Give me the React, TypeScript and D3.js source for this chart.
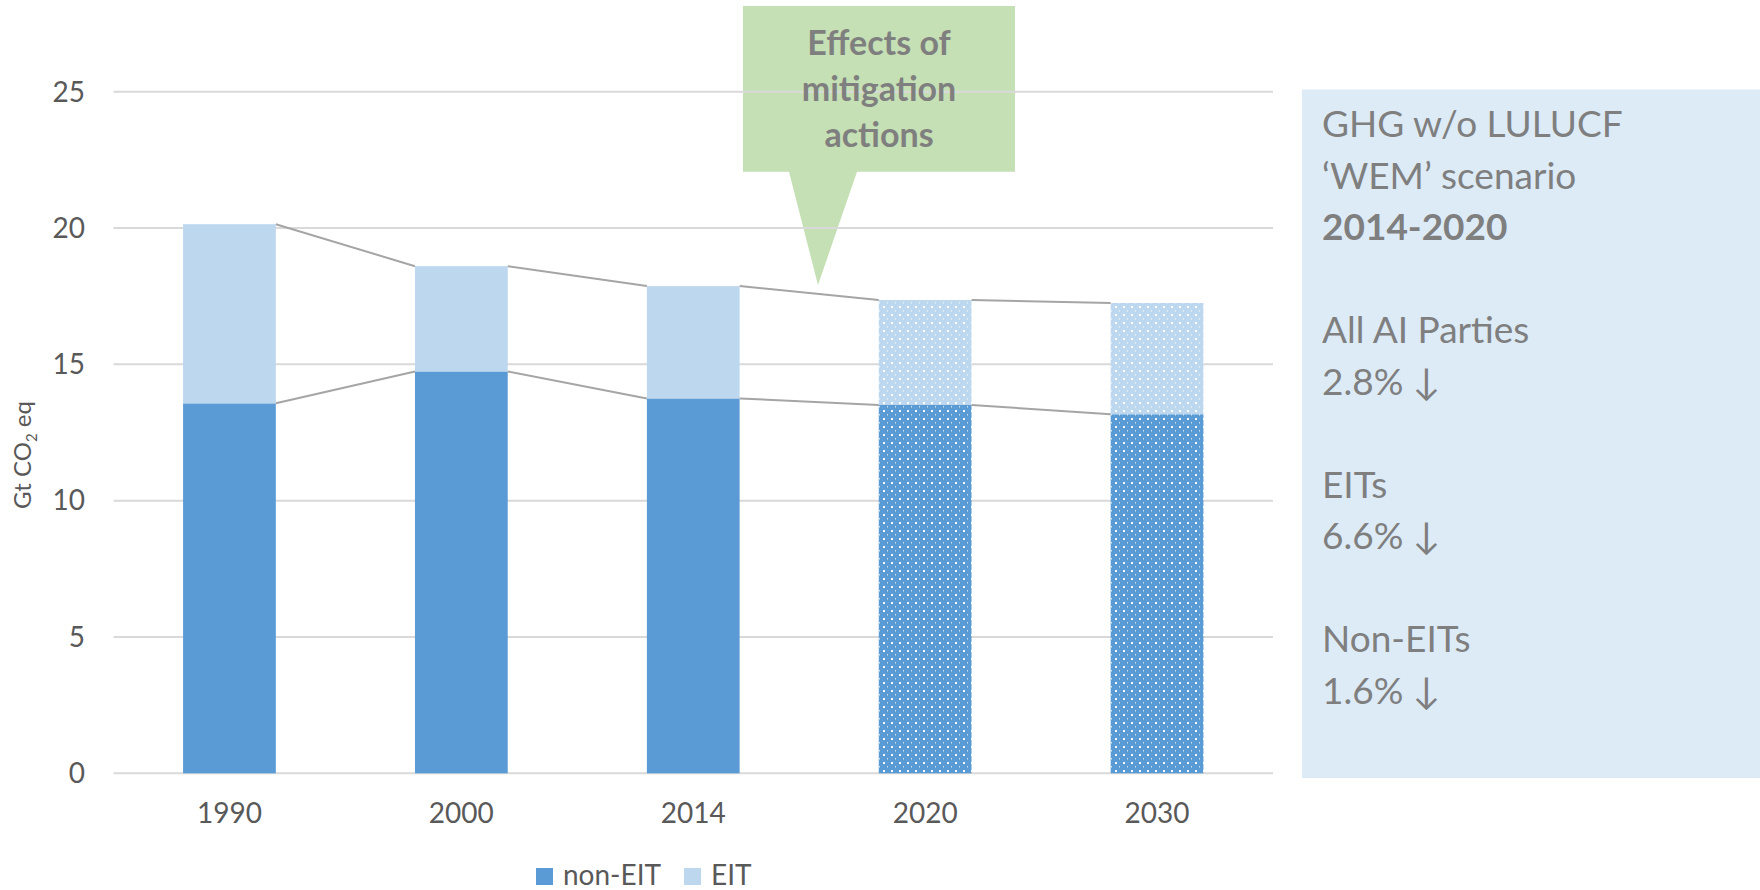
import React from "react";
import * as d3 from "d3";

const categories = ["1990", "2000", "2014", "2020", "2030"];
const nonEIT = [13.57, 14.74, 13.75, 13.51, 13.17];
const eit = [6.57, 3.86, 4.12, 3.85, 4.08];
const projected = [false, false, false, true, true];
const yTicks = [0, 5, 10, 15, 20, 25];
const seriesNames = ["non-EIT", "EIT"];
const calloutLines = ["Effects of", "mitigation", "actions"];
const panelLines: { text: string; bold?: boolean }[] = [
  { text: "GHG w/o LULUCF" },
  { text: "\u2018WEM\u2019 scenario" },
  { text: "2014-2020", bold: true },
  { text: "" },
  { text: "All AI Parties" },
  { text: "2.8% \u2193" },
  { text: "" },
  { text: "EITs" },
  { text: "6.6% \u2193" },
  { text: "" },
  { text: "Non-EITs" },
  { text: "1.6% \u2193" },
];

const W = 1760;
const H = 890;
const FONT = "Lato, 'Open Sans', sans-serif";
const C_NON = "#5B9BD5";
const C_EIT = "#BDD7EE";

export default function App() {
  const x = d3
    .scaleBand<string>()
    .domain(categories)
    .range([113.5, 1273])
    .paddingInner(0.6)
    .paddingOuter(0.3);
  const y = d3.scaleLinear().domain([0, 25]).range([773.3, 91.7]);
  const bw = x.bandwidth();

  const totals = categories.map((_, i) => nonEIT[i] + eit[i]);

  const connectors: { x1: number; y1: number; x2: number; y2: number }[] = [];
  for (let i = 0; i < categories.length - 1; i++) {
    const xa = (x(categories[i]) as number) + bw;
    const xb = x(categories[i + 1]) as number;
    connectors.push({ x1: xa, y1: y(totals[i]), x2: xb, y2: y(totals[i + 1]) });
    connectors.push({ x1: xa, y1: y(nonEIT[i]), x2: xb, y2: y(nonEIT[i + 1]) });
  }

  // callout shape
  const bx0 = 743, bx1 = 1015, by0 = 6, by1 = 171.7;
  const callout = d3.path();
  callout.moveTo(bx0, by0);
  callout.lineTo(bx1, by0);
  callout.lineTo(bx1, by1);
  callout.lineTo(857, by1);
  callout.lineTo(818, 285);
  callout.lineTo(789, by1);
  callout.lineTo(bx0, by1);
  callout.closePath();

  return (
    <svg
      width={W}
      height={H}
      style={{ position: "absolute", left: 0, top: 0, display: "block", background: "#fff" }}
      fontFamily={FONT}
    >
      <defs>
        <pattern id="dotsNon" width={8} height={8} patternUnits="userSpaceOnUse">
          <rect width={8} height={8} fill={C_NON} />
          <rect x={3} y={2} width={2} height={2} fill="#fff" opacity={0.95} />
          <rect x={7} y={6} width={1} height={1.5} fill="#fff" opacity={0.7} />
        </pattern>
        <pattern id="dotsEit" width={8} height={8} patternUnits="userSpaceOnUse">
          <rect width={8} height={8} fill={C_EIT} />
          <rect x={3} y={2} width={2} height={2} fill="#fff" opacity={0.95} />
          <rect x={7} y={6} width={1} height={1.5} fill="#fff" opacity={0.7} />
        </pattern>
      </defs>

      {/* right info panel */}
      <rect x={1302} y={89.5} width={W - 1302} height={778 - 89.5} fill="#DDEBF7" />
      {panelLines.map((l, i) =>
        l.text ? (
          <text
            key={i}
            x={1322}
            y={137 + i * 51.5}
            fontSize={37}
            fill="#7F7F7F"
            fontWeight={l.bold ? 700 : 400}
          >
            {l.text}
          </text>
        ) : null
      )}

      {/* callout shape */}
      <path d={callout.toString()} fill="#C5E0B4" />

      {/* gridlines */}
      {yTicks.map((t) => (
        <line
          key={t}
          x1={113.5}
          x2={1273}
          y1={y(t)}
          y2={y(t)}
          stroke="#D9D9D9"
          strokeWidth={2}
        />
      ))}

      {/* y tick labels */}
      {yTicks.map((t) => (
        <text
          key={"l" + t}
          x={85}
          y={y(t)}
          dy="0.35em"
          textAnchor="end"
          fontSize={28}
          fill="#595959"
        >
          {t}
        </text>
      ))}

      {/* y axis title */}
      <text
        transform={`translate(31,455) rotate(-90)`}
        textAnchor="middle"
        fontSize={24}
        fill="#595959"
      >
        Gt CO
        <tspan fontSize={15} dy={6}>
          2
        </tspan>
        <tspan dy={-6}> eq</tspan>
      </text>

      {/* bars */}
      {categories.map((c, i) => {
        const x0 = x(c) as number;
        return (
          <g key={c}>
            <rect
              x={x0}
              y={y(nonEIT[i])}
              width={bw}
              height={y(0) - y(nonEIT[i])}
              fill={projected[i] ? "url(#dotsNon)" : C_NON}
            />
            <rect
              x={x0}
              y={y(totals[i])}
              width={bw}
              height={y(nonEIT[i]) - y(totals[i])}
              fill={projected[i] ? "url(#dotsEit)" : C_EIT}
            />
          </g>
        );
      })}

      {/* connector lines */}
      {connectors.map((s, i) => (
        <line
          key={"c" + i}
          x1={s.x1}
          y1={s.y1}
          x2={s.x2}
          y2={s.y2}
          stroke="#A5A5A5"
          strokeWidth={2}
        />
      ))}

      {/* x labels */}
      {categories.map((c) => (
        <text
          key={"x" + c}
          x={(x(c) as number) + bw / 2}
          y={823}
          textAnchor="middle"
          fontSize={28}
          fill="#595959"
        >
          {c}
        </text>
      ))}

      {/* callout text */}
      {calloutLines.map((t, i) => (
        <text
          key={"t" + i}
          x={879}
          y={55 + i * 45.8}
          textAnchor="middle"
          fontSize={34}
          fontWeight={700}
          fill="#7F7F7F"
        >
          {t}
        </text>
      ))}

      {/* legend */}
      {seriesNames.map((s, i) => {
        const lx = i === 0 ? 536 : 684;
        return (
          <g key={s}>
            <rect x={lx} y={868} width={17} height={17} fill={i === 0 ? C_NON : C_EIT} />
            <text x={lx + 27} y={885} fontSize={28} fill="#595959">
              {s}
            </text>
          </g>
        );
      })}
    </svg>
  );
}
